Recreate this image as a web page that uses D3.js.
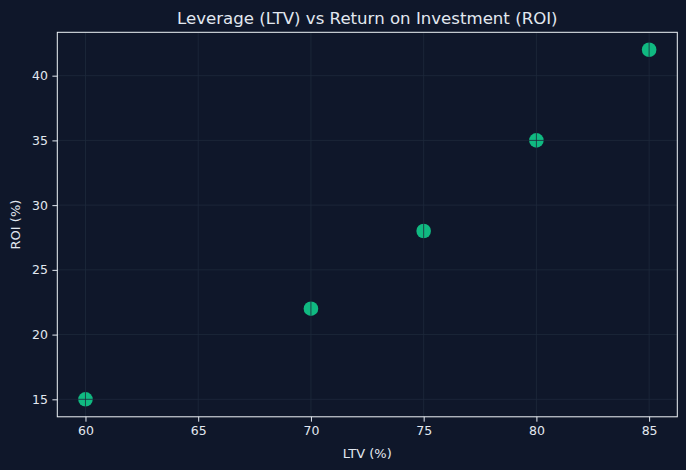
<!DOCTYPE html>
<html><head><meta charset="utf-8">
<script src="https://cdn.jsdelivr.net/npm/d3@7"></script>
<style>html,body{margin:0;padding:0;background:#0f172a;}svg{display:block;}</style>
</head><body>
<svg id="c" width="686" height="470"></svg>
<script>
const ltv = [60, 70, 75, 80, 85];
const roi = [15, 22, 28, 35, 42];
const xTicks = [60, 65, 70, 75, 80, 85];
const yTicks = [15, 20, 25, 30, 35, 40];

const W = 686, H = 470;
const m = {l: 57.3, t: 32.3, r: 677.3, b: 416.8};
const svg = d3.select("#c");
const font = "DejaVu Sans, sans-serif";
const txt = "#e2e8f0";

svg.append("rect").attr("width", W).attr("height", H).attr("fill", "#0f172a");
svg.append("rect").attr("x", m.l).attr("y", m.t).attr("width", m.r - m.l).attr("height", m.b - m.t).attr("fill", "#0f172a");

const x = d3.scaleLinear().domain([58.75, 86.25]).range([m.l, m.r]);
const y = d3.scaleLinear().domain([13.65, 43.35]).range([m.b, m.t]);

// points
svg.append("g").selectAll("circle").data(ltv).join("circle")
  .attr("cx", (d) => x(d)).attr("cy", (d, i) => y(roi[i])).attr("r", 7.3)
  .attr("fill", "#10b981");

// grid on top
const grid = svg.append("g").attr("stroke", "#1e293b").attr("stroke-opacity", 0.9).attr("stroke-width", 0.9);
grid.selectAll("line.gx").data(xTicks).join("line").attr("class", "gx")
  .attr("x1", (d) => x(d)).attr("x2", (d) => x(d)).attr("y1", m.t).attr("y2", m.b);
grid.selectAll("line.gy").data(yTicks).join("line").attr("class", "gy")
  .attr("y1", (d) => y(d)).attr("y2", (d) => y(d)).attr("x1", m.l).attr("x2", m.r);

// axes
const xAxis = d3.axisBottom(x).tickValues(xTicks).tickSize(4.9).tickPadding(4.5).tickFormat(d3.format("d"));
const yAxis = d3.axisLeft(y).tickValues(yTicks).tickSize(4.9).tickPadding(4.5).tickFormat(d3.format("d"));
const gx = svg.append("g").attr("transform", `translate(0,${m.b})`).call(xAxis);
const gy = svg.append("g").attr("transform", `translate(${m.l},0)`).call(yAxis);
[gx, gy].forEach(g => {
  g.select(".domain").remove();
  g.selectAll(".tick line").attr("stroke", txt).attr("stroke-width", 1);
  g.selectAll(".tick text").attr("fill", txt).attr("font-family", font).attr("font-size", "12.5px");
});

// spines
svg.append("rect").attr("x", m.l).attr("y", m.t).attr("width", m.r - m.l).attr("height", m.b - m.t)
  .attr("fill", "none").attr("stroke", "#f1f5f9").attr("stroke-width", 1);

svg.append("text").attr("x", (m.l + m.r) / 2).attr("y", 24).attr("text-anchor", "middle")
  .attr("fill", txt).attr("font-family", font).attr("font-size", "16.6px")
  .text("Leverage (LTV) vs Return on Investment (ROI)");
svg.append("text").attr("x", (m.l + m.r) / 2).attr("y", 458).attr("text-anchor", "middle")
  .attr("fill", txt).attr("font-family", font).attr("font-size", "13px").text("LTV (%)");
svg.append("text").attr("transform", `translate(20,${(m.t + m.b) / 2}) rotate(-90)`).attr("text-anchor", "middle")
  .attr("fill", txt).attr("font-family", font).attr("font-size", "13px").text("ROI (%)");
</script>
</body></html>
